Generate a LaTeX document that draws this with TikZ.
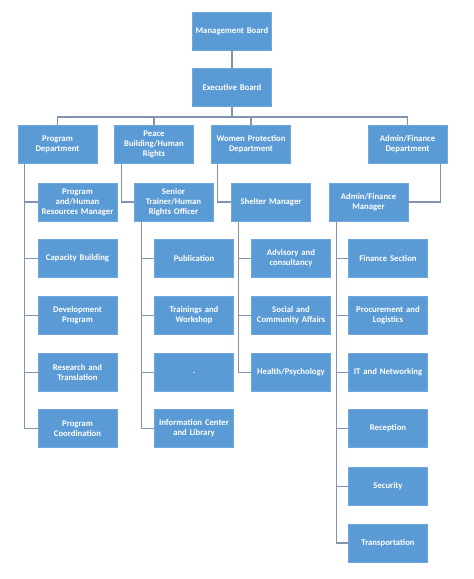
\documentclass[tikz,border=0pt]{standalone}
\usepackage{fontspec}
\setmainfont{Carlito}
\definecolor{boxblue}{HTML}{5B9BD5}
\definecolor{boxedge}{HTML}{6FA8DC}
\definecolor{linecol}{HTML}{8094AE}
\begin{document}
\begin{tikzpicture}[x=1pt,y=-1pt,
  orgbox/.style={draw=boxedge,line width=0.6pt,fill=boxblue,text=white,font=\fontsize{8.7}{10}\selectfont\bfseries,
    minimum width=79pt,minimum height=38pt,text width=78pt,align=center,inner sep=0.5pt},
  conn/.style={draw=linecol,line width=1.1pt}]
\useasboundingbox (0,0) rectangle (474,579);
% level 0/1
\node[orgbox] (mb) at (232,31) {Management Board};
\node[orgbox] (eb) at (232,87.5) {Executive Board};
% level 2
\node[orgbox] (pd) at (57.5,144.5) {Program\\Department};
\node[orgbox] (pb) at (154,144.5) {Peace\\Building/Human\\Rights};
\node[orgbox] (wp) at (251,144.5) {Women Protection\\Department};
\node[orgbox] (afd) at (407.5,144.5) {Admin/Finance\\Department};
% level 3
\node[orgbox] (pm) at (77.5,202) {Program\\and/Human\\Resources Manager};
\node[orgbox] (st) at (173.5,202) {Senior\\Trainer/Human\\Rights Officer};
\node[orgbox] (sm) at (271,202) {Shelter Manager};
\node[orgbox] (afm) at (368.5,202) {Admin/Finance\\Manager};
% program column
\node[orgbox] (cb) at (77.5,258.5) {Capacity Building};
\node[orgbox] (dp) at (77.5,315.5) {Development\\Program};
\node[orgbox] (rt) at (77.5,372.5) {Research and\\Translation};
\node[orgbox] (pc) at (77.5,428.5) {Program\\Coordination};
% senior trainer column
\node[orgbox] (pu) at (194,258.5) {Publication};
\node[orgbox] (tw) at (194,315.5) {Trainings and\\Workshop};
\node[orgbox] (dot) at (194,372.5) {.};
\node[orgbox] (ic) at (194,428.5) {Information Center\\and Library};
% shelter column
\node[orgbox] (ac) at (291,258.5) {Advisory and\\consultancy};
\node[orgbox] (sc) at (291,315.5) {Social and\\Community Affairs};
\node[orgbox] (hp) at (291,372.5) {Health/Psychology};
% admin column
\node[orgbox] (fs) at (388,258.5) {Finance Section};
\node[orgbox] (pl) at (388,315.5) {Procurement and\\Logistics};
\node[orgbox] (it) at (388,372.5) {IT and Networking};
\node[orgbox] (re) at (388,428.5) {Reception};
\node[orgbox] (se) at (388,486.5) {Security};
\node[orgbox] (tr) at (388,543) {Transportation};
% connectors
\coordinate (bus) at (232,117);
\draw[conn] (mb.south) -- (eb.north);
\draw[conn] (eb.south) -- (bus);
\draw[conn] (pd.north) |- (bus) -| (afd.north);
\draw[conn] (pb.north) |- (bus);
\draw[conn] (wp.north) |- (bus);
\draw[conn] ([xshift=7pt]pd.south west) |- (pm.west);
\foreach \c in {cb,dp,rt,pc} \draw[conn] ([xshift=7pt]pd.south west) |- (\c.west);
\draw[conn] ([xshift=7pt]pb.south west) |- (st.west);
\draw[conn] ([xshift=6pt]wp.south west) |- (sm.west);
\draw[conn] ([xshift=-7pt]afd.south east) |- (afm.east);
\foreach \c in {pu,tw,dot,ic} \draw[conn] ([xshift=8pt]st.south west) |- (\c.west);
\foreach \c in {ac,sc,hp} \draw[conn] ([xshift=7pt]sm.south west) |- (\c.west);
\foreach \c in {fs,pl,it,re,se,tr} \draw[conn] ([xshift=8pt]afm.south west) |- (\c.west);
\end{tikzpicture}
\end{document}
